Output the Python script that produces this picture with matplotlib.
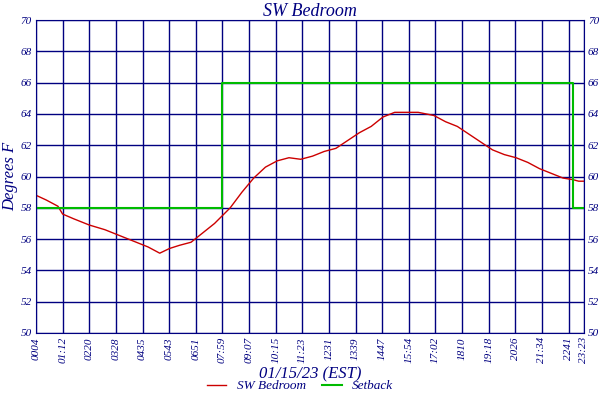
import matplotlib
matplotlib.use("Agg")
import matplotlib.pyplot as plt

tick_labels = ["0004","01:12","0220","0328","0435","0543","0651","07:59","09:07","10:15","11:23",
               "1231","1339","1447","15:54","17:02","1810","19:18","2026","21:34","2241","23:23"]
tick_minutes = [4 + 68*i for i in range(21)] + [1403]

temp_min = [4, 30, 60, 72, 100, 140, 180, 220, 260, 290, 320, 345, 370, 400, 430, 460, 480, 500,
            530, 560, 590, 620, 650, 680, 710, 740, 770, 800, 830, 860, 890, 920, 950, 980, 1000,
            1020, 1050, 1080, 1110, 1140, 1170, 1200, 1230, 1260, 1290, 1320, 1350, 1375, 1390, 1403]
temp_val = [58.8, 58.5, 58.1, 57.6, 57.3, 56.9, 56.6, 56.2, 55.8, 55.5, 55.1, 55.4, 55.6, 55.8, 56.4,
            57.0, 57.5, 58.0, 59.0, 59.9, 60.6, 61.0, 61.2, 61.1, 61.3, 61.6, 61.8, 62.3, 62.8, 63.2,
            63.8, 64.1, 64.1, 64.1, 64.0, 63.9, 63.5, 63.2, 62.7, 62.2, 61.7, 61.4, 61.2, 60.9, 60.5,
            60.2, 59.9, 59.8, 59.7, 59.7]

setback_min = [4, 480, 480, 1375, 1375, 1403]
setback_val = [58, 58, 66, 66, 58, 58]

navy = "#000080"
fam = "Liberation Serif"
fig = plt.figure(figsize=(6, 4), dpi=100)
ax = fig.add_axes([0.06, 0.1675, 0.913, 0.7825])
ax.plot(temp_min, temp_val, color="#cc0000", lw=1, label="SW Bedroom")
ax.plot(setback_min, setback_val, color="#00bb00", lw=1.5, label="Setback")
ax.set_xlim(4, 1403)
ax.set_ylim(50, 70)
ax.set_xticks(tick_minutes)
ax.set_xticklabels(tick_labels, rotation=90, fontsize=8, style="italic", color=navy, family=fam)
ax.set_yticks(range(50, 71, 2))
ax.tick_params(axis="y", labelsize=8, colors=navy, right=True, labelright=True, length=0, pad=3)
ax.tick_params(axis="x", colors=navy, length=0, pad=3)
for l in ax.get_yticklabels() + ax.get_yticklabels(which="both"):
    l.set_style("italic"); l.set_family(fam)
for t in ax.yaxis.get_major_ticks():
    t.label2.set_style("italic"); t.label2.set_family(fam)
ax.grid(True, color=navy, lw=1)
for s in ax.spines.values():
    s.set_color(navy)
ax.set_title("SW Bedroom", color=navy, style="italic", fontsize=13, family=fam, pad=3)
ax.set_ylabel("Degrees F", color=navy, style="italic", fontsize=12, family=fam, labelpad=2)
ax.set_xlabel("01/15/23 (EST)", color=navy, style="italic", fontsize=12, family=fam, labelpad=2)
fig.legend(loc="lower center", ncol=2, frameon=False, bbox_to_anchor=(0.5, -0.01),
           prop={"style": "italic", "family": fam, "size": 9.5}, labelcolor=navy,
           handlelength=1.5, columnspacing=1.2)
fig.savefig("out.png")
